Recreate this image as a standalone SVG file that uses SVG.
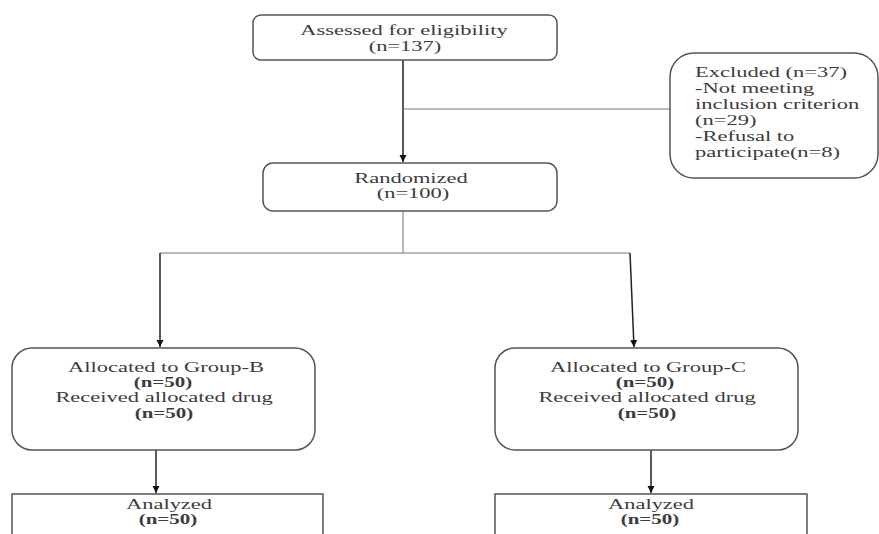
<svg xmlns="http://www.w3.org/2000/svg" width="879" height="534" viewBox="0 0 879 534">
<defs>
<style>
.box{fill:#fff;stroke:#555;stroke-width:1.5}
.t{font-family:"Liberation Serif","Times New Roman",serif;font-size:15px;fill:#3c3c3c}
.c{text-anchor:middle}
.b{font-weight:bold}
.ln{stroke:#222;stroke-width:1.5;fill:none}
.thin{stroke:#777;stroke-width:1;fill:none}
</style>
<marker id="ah" markerWidth="8" markerHeight="8" refX="7" refY="4" orient="auto" markerUnits="userSpaceOnUse">
<path d="M0,0.5 L7,4 L0,7.5 Z" fill="#111"/>
</marker>
</defs>
<rect width="879" height="534" fill="#fff"/>
<g id="connectors">
<line class="ln" x1="403" y1="60" x2="403" y2="162" marker-end="url(#ah)"/>
<line class="thin" x1="403" y1="109" x2="670" y2="109"/>
<line class="thin" x1="403" y1="211" x2="403" y2="253"/>
<line class="thin" x1="160" y1="253" x2="630" y2="253"/>
<line class="ln" x1="160" y1="253" x2="160" y2="347" marker-end="url(#ah)"/>
<line class="ln" x1="630" y1="253" x2="634" y2="347" marker-end="url(#ah)"/>
<line class="ln" x1="156" y1="450" x2="156" y2="493" marker-end="url(#ah)"/>
<line class="ln" x1="651" y1="450" x2="651" y2="493" marker-end="url(#ah)"/>
</g>
<g id="assessed">
<rect class="box" x="253" y="15" width="304" height="45" rx="8"/>
<text class="t c" transform="translate(404,35) scale(1.5,1)">Assessed for eligibility</text>
<text class="t c" transform="translate(405,51) scale(1.5,1)">(n=137)</text>
</g>
<g id="excluded">
<rect class="box" x="670" y="53" width="208" height="125" rx="24"/>
<text class="t" transform="translate(695,77) scale(1.5,1)">Excluded (n=37)</text>
<text class="t" transform="translate(695,93) scale(1.5,1)">-Not meeting</text>
<text class="t" transform="translate(695,109) scale(1.5,1)">inclusion criterion</text>
<text class="t" transform="translate(695,125) scale(1.5,1)">(n=29)</text>
<text class="t" transform="translate(695,141) scale(1.5,1)">-Refusal to</text>
<text class="t" transform="translate(695,157) scale(1.5,1)">participate(n=8)</text>
</g>
<g id="randomized">
<rect class="box" x="263" y="163" width="294" height="48" rx="10"/>
<text class="t c" transform="translate(411,183) scale(1.5,1)">Randomized</text>
<text class="t c" transform="translate(413,198) scale(1.5,1)">(n=100)</text>
</g>
<g id="groupB">
<rect class="box" x="12" y="348" width="303" height="102" rx="20"/>
<text class="t c" transform="translate(166,372) scale(1.5,1)">Allocated to Group-B</text>
<text class="t c b" transform="translate(163,387) scale(1.4,1)">(n=50)</text>
<text class="t c" transform="translate(164,402) scale(1.5,1)">Received allocated drug</text>
<text class="t c b" transform="translate(164,418) scale(1.4,1)">(n=50)</text>
</g>
<g id="groupC">
<rect class="box" x="495" y="348" width="303" height="102" rx="20"/>
<text class="t c" transform="translate(648,372) scale(1.5,1)">Allocated to Group-C</text>
<text class="t c b" transform="translate(645,387) scale(1.4,1)">(n=50)</text>
<text class="t c" transform="translate(647,402) scale(1.5,1)">Received allocated drug</text>
<text class="t c b" transform="translate(647,418) scale(1.4,1)">(n=50)</text>
</g>
<g id="analyzedB">
<rect class="box" x="12" y="494" width="311" height="50"/>
<text class="t c" transform="translate(169,509) scale(1.5,1)">Analyzed</text>
<text class="t c b" transform="translate(168,524) scale(1.4,1)">(n=50)</text>
</g>
<g id="analyzedC">
<rect class="box" x="495" y="494" width="312" height="50"/>
<text class="t c" transform="translate(651,509) scale(1.5,1)">Analyzed</text>
<text class="t c b" transform="translate(650,524) scale(1.4,1)">(n=50)</text>
</g>
</svg>
